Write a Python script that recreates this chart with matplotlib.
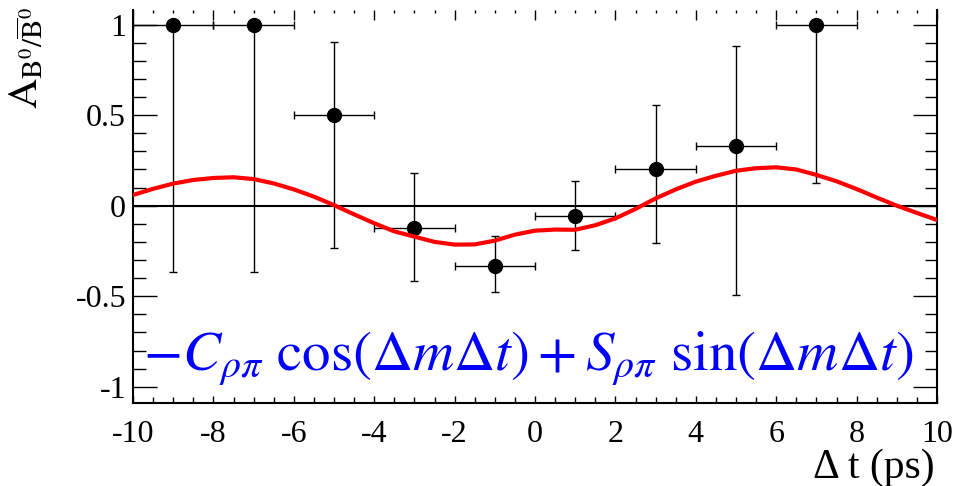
import numpy as np
import matplotlib
matplotlib.use("Agg")
import matplotlib.pyplot as plt
from matplotlib.ticker import MultipleLocator, FuncFormatter

plt.rcParams['font.family'] = ['Liberation Serif', 'DejaVu Serif']
plt.rcParams['mathtext.fontset'] = 'stix'
plt.rcParams['axes.unicode_minus'] = False

# asymmetry per delta-t bin
dt = [-9, -7, -5, -3, -1, 1, 3, 5, 7]
dt_half = [1, 1, 1, 1, 1, 1, 1, 1, 1]
asym = [1.0, 1.0, 0.5, -0.125, -0.331, -0.057, 0.201, 0.331, 1.0]
err_lo = [1.365, 1.365, 0.735, 0.291, 0.147, 0.186, 0.405, 0.823, 0.873]
err_hi = [0.0, 0.0, 0.406, 0.307, 0.165, 0.195, 0.357, 0.551, 0.0]

# fitted curve
fit_t = [-10, -9.5, -9, -8.5, -8, -7.5, -7, -6.5, -6, -5.5, -5, -4.5, -4, -3.5,
         -3, -2.5, -2, -1.5, -1, -0.5, 0, 0.5, 1, 1.5, 2, 2.5, 3, 3.5, 4, 4.5,
         5, 5.5, 6, 6.5, 7, 7.5, 8, 8.5, 9, 9.5, 10]
fit_a = [0.059, 0.093, 0.122, 0.142, 0.153, 0.157, 0.147, 0.123, 0.09, 0.05,
         0.003, -0.048, -0.097, -0.142, -0.171, -0.2, -0.215, -0.214, -0.193,
         -0.16, -0.138, -0.132, -0.133, -0.108, -0.07, -0.018, 0.04, 0.09,
         0.133, 0.165, 0.193, 0.207, 0.212, 0.2, 0.17, 0.135, 0.092, 0.045,
         0.0, -0.04, -0.079]

fig = plt.figure(figsize=(9.58, 4.86), dpi=100)
ax = fig.add_axes([133/958, 83/486, 804/958, 393/486])

ax.axhline(0, color='black', lw=1.5, zorder=1)
ax.errorbar(dt, asym, xerr=dt_half, yerr=[err_lo, err_hi], fmt='o', color='black',
            ms=10, elinewidth=1.0, capsize=3, capthick=1.0, zorder=2)
ax.plot(fit_t, fit_a, color='red', lw=3, zorder=3)

ax.set_xlim(-10, 10)
ax.set_ylim(-1.09, 1.081)

ax.xaxis.set_major_locator(MultipleLocator(2))
ax.xaxis.set_minor_locator(MultipleLocator(0.5))
ax.yaxis.set_major_locator(MultipleLocator(0.5))
ax.yaxis.set_minor_locator(MultipleLocator(0.1))
ax.yaxis.set_major_formatter(FuncFormatter(lambda v, p: '%g' % v))
ax.xaxis.set_major_formatter(FuncFormatter(lambda v, p: '%g' % v))

ax.spines['top'].set_visible(False)
for s in ['left', 'bottom', 'right']:
    ax.spines[s].set_linewidth(1.5)

ax.tick_params(axis='y', which='major', direction='in', length=17, width=1,
               right=True, labelsize=23, pad=5)
ax.tick_params(axis='y', which='minor', direction='in', length=9, width=1, right=True)
ax.tick_params(axis='x', which='major', direction='in', length=5, width=1,
               labelsize=23, pad=12)
ax.tick_params(axis='x', which='minor', direction='in', length=4.3, width=1)

top = ax.secondary_xaxis('top')
top.xaxis.set_major_locator(MultipleLocator(2))
top.xaxis.set_minor_locator(MultipleLocator(0.5))
top.spines['top'].set_visible(False)
top.tick_params(which='major', direction='in', length=7, width=1, labeltop=False)
top.tick_params(which='minor', direction='in', length=2.5, width=1)

ax.text(-9.75, -0.91,
        r'$-C_{\rho\pi}\ \cos(\Delta m\Delta t) + S_{\rho\pi}\ \sin(\Delta m\Delta t)$',
        color='blue', fontsize=41, ha='left', va='baseline')

fig.text(0.028, 0.985, r'$\mathrm{A}_{\mathrm{B}^{0}/\overline{\mathrm{B}}^{0}}$',
         rotation=90, ha='center', va='top', fontsize=30)
fig.text(935/958, 1 - 468/486, 'Δ t (ps)', ha='right', va='center', fontsize=30)

fig.savefig('out.png', dpi=100)
